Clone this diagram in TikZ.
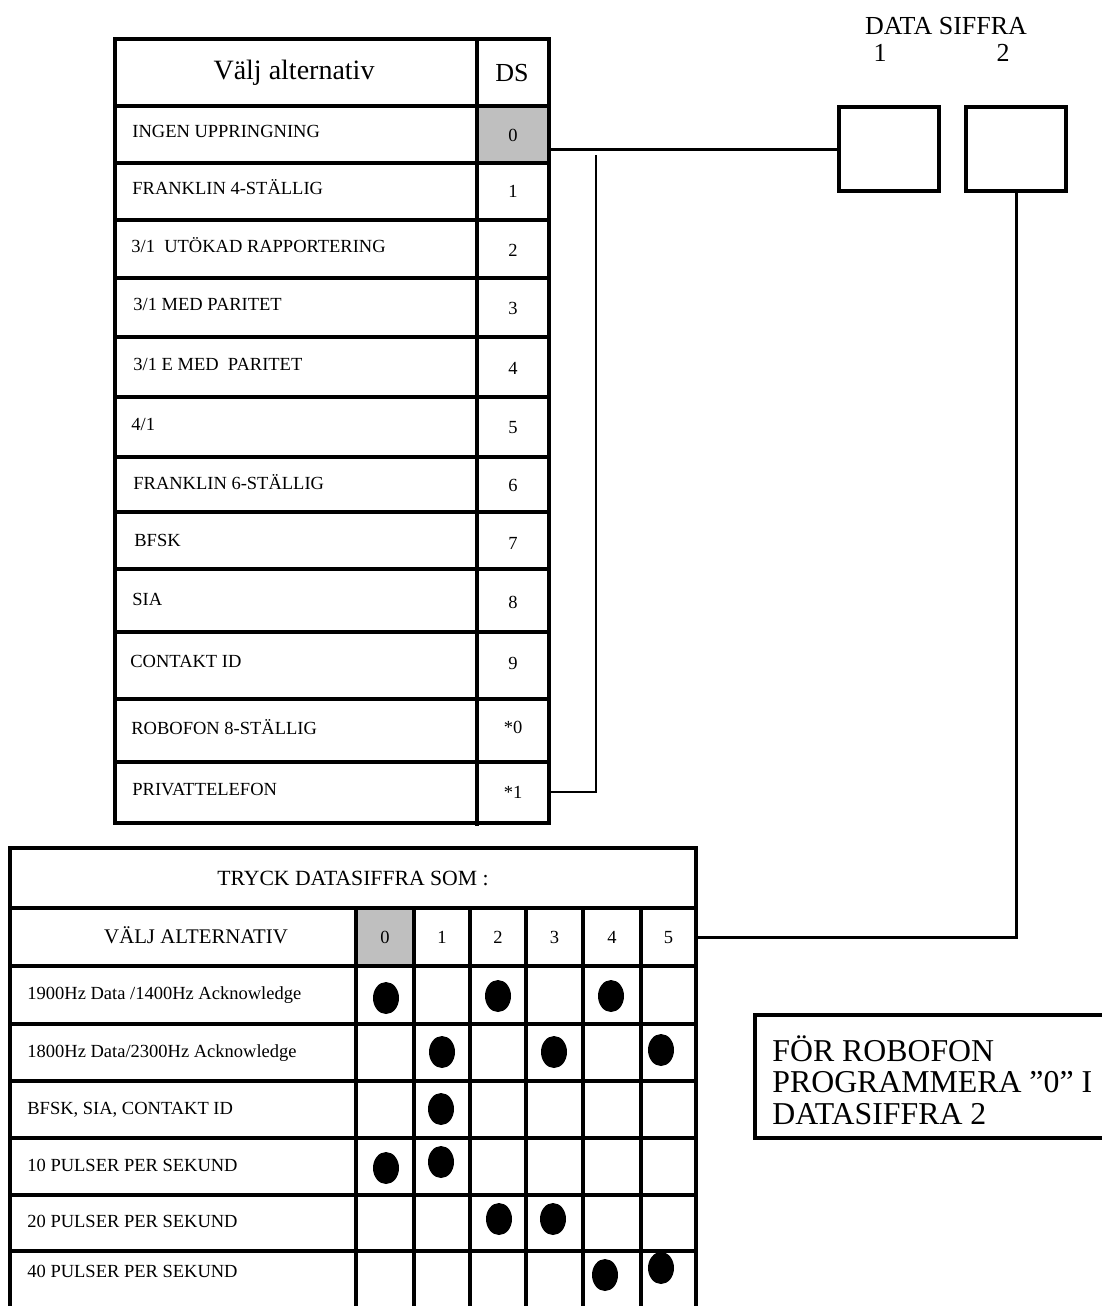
\documentclass[tikz,border=0pt]{standalone}
\usepackage{fontspec}
\setmainfont{Liberation Serif}
\newcommand{\smallf}{\fontsize{9.25}{11}\selectfont}
\begin{document}
\begin{tikzpicture}[x=0.5pt,y=-0.5pt,
  tbl/.style={line width=1.6pt},
  conn/.style={line width=1.5pt},
  thinconn/.style={line width=1.1pt},
  lbl/.style={anchor=west, inner sep=0pt, font=\smallf, text height=6.2pt, text depth=0pt},
  num/.style={inner sep=0pt, minimum width=36pt, font=\smallf, text height=6.2pt, text depth=0pt},
  hnum/.style={inner sep=0pt, minimum width=27.5pt, font=\smallf, text height=6.2pt, text depth=0pt},
  dbox/.style={draw, line width=1.6pt, minimum width=50pt, minimum height=42pt, inner sep=0pt},
  dotm/.style={fill=black},
  grayc/.style={fill=black!25}
]
\useasboundingbox (0,0) rectangle (1102,1306);

% ---------- top table ----------
\fill[grayc] (478.5,107.5) rectangle (547.5,161.5);
\draw[tbl] (115,39) rectangle (549,823);
\draw[tbl] (477,39) -- (477,826);
\foreach \y in {106,163,220,278,337,397,457,512,569,632,699,762}
  \draw[tbl] (115,\y) -- (549,\y);

\node[inner sep=0pt, font=\fontsize{14}{16}\selectfont] (hdrA) at (294,73) {Välj alternativ};
\node[inner sep=0pt, font=\fontsize{13}{15}\selectfont] (hdrB) at (512,73) {DS};

\node[lbl] (l0) at (132,131.5) {INGEN UPPRINGNING};
\node[lbl] (l1) at (132,188.5) {FRANKLIN 4-STÄLLIG};
\node[lbl] (l2) at (131,246) {3/1\ \ UTÖKAD RAPPORTERING};
\node[lbl] (l3) at (133,304.5) {3/1 MED PARITET};
\node[lbl] (l4) at (133,364) {3/1 E MED\ \ PARITET};
\node[lbl] (l5) at (131,424) {4/1};
\node[lbl] (l6) at (133,483) {FRANKLIN 6-STÄLLIG};
\node[lbl] (l7) at (134,540) {BFSK};
\node[lbl] (l8) at (132,599) {SIA};
\node[lbl] (l9) at (130,661) {CONTAKT ID};
\node[lbl] (lA) at (131,728) {ROBOFON 8-STÄLLIG};
\node[lbl] (lB) at (132,789) {PRIVATTELEFON};

\node[num] (ds0) at (513,135) {0};
\node[num] (ds1) at (513,191) {1};
\node[num] (ds2) at (513,250) {2};
\node[num] (ds3) at (513,308) {3};
\node[num] (ds4) at (513,368) {4};
\node[num] (ds5) at (513,427) {5};
\node[num] (ds6) at (513,485) {6};
\node[num] (ds7) at (513,543) {7};
\node[num] (ds8) at (513,602) {8};
\node[num] (ds9) at (513,663) {9};
\node[num] (dsA) at (513,727) {*0};
\node[num] (dsB) at (513,792) {*1};

% ---------- data digit boxes ----------
\node[inner sep=0pt, font=\fontsize{13}{15}\selectfont] (dtitle) at (946,26) {DATA SIFFRA};
\node[inner sep=0pt, font=\fontsize{13}{15}\selectfont] (dn1) at (880,53) {1};
\node[inner sep=0pt, font=\fontsize{13}{15}\selectfont] (dn2) at (1003,53) {2};
\node[dbox] (box1) at (889,149) {};
\node[dbox] (box2) at (1016,149) {};

% ---------- table 2 ----------
\fill[grayc] (357.5,909.5) rectangle (412.5,964.5);
\draw[tbl] (10,848) rectangle (696,908);
\draw[tbl] (10,908) -- (10,1306);
\foreach \x in {356,414,470,526,583,641,696}
  \draw[tbl] (\x,908) -- (\x,1306);
\foreach \y in {966,1024,1081,1138,1195,1251}
  \draw[tbl] (10,\y) -- (696,\y);

\node[inner sep=0pt, font=\fontsize{10.85}{13}\selectfont] (ttl) at (353,878) {TRYCK DATASIFFRA SOM :};
\node[inner sep=0pt, font=\fontsize{10.4}{12}\selectfont, text height=6.9pt, text depth=0pt] (valj) at (196,937) {VÄLJ ALTERNATIV};
\node[hnum] (h0) at (385,937) {0};
\node[hnum] (h1) at (442,937) {1};
\node[hnum] (h2) at (498,937) {2};
\node[hnum] (h3) at (554.5,937) {3};
\node[hnum] (h4) at (612,937) {4};
\node[hnum] (h5) at (668.5,937) {5};

\node[lbl] (r1) at (27,993) {1900Hz Data /1400Hz Acknowledge};
\node[lbl] (r2) at (27,1051) {1800Hz Data/2300Hz Acknowledge};
\node[lbl] (r3) at (27,1108) {BFSK, SIA, CONTAKT ID};
\node[lbl] (r4) at (27,1165) {10 PULSER PER SEKUND};
\node[lbl] (r5) at (27,1221) {20 PULSER PER SEKUND};
\node[lbl] (r6) at (27,1271) {40 PULSER PER SEKUND};

\foreach \px/\py in {386/998, 498/996, 611/996,
                     442/1052, 554/1052, 661/1050,
                     441/1109,
                     386/1168, 441/1162,
                     499/1219, 553/1219,
                     605/1275, 661/1268}
  \fill[dotm] (\px,\py) ellipse [x radius=13, y radius=16];

% ---------- note box ----------
\draw[tbl] (1104,1015) -- (755,1015) -- (755,1138) -- (1104,1138);
\node[anchor=north west, inner sep=0pt, align=left,
      font=\fontsize{15.9}{15.75}\selectfont] (note) at (772,1035)
  {FÖR ROBOFON\\PROGRAMMERA ”0” I\\DATASIFFRA 2};

% ---------- connectors ----------
\coordinate (c2top) at (596,155);
\draw[conn] (ds0.east |- box1.west) -- (box1.west);
\draw[thinconn] (dsB.east) -| (c2top);
\draw[conn] (box2.south) |- (h5.east);
\end{tikzpicture}
\end{document}
